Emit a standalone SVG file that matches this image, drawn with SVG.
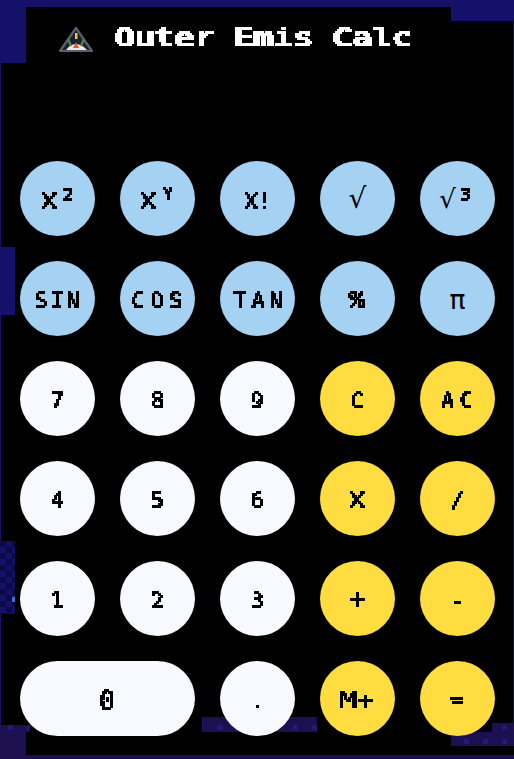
<svg xmlns="http://www.w3.org/2000/svg" width="514" height="759" viewBox="0 0 514 759">
<style>
.bg{fill:#000}
.n{fill:#15106a}
.p{fill:#1c1050}
.b{fill:#a5d2f2}
.w{fill:#f8f9ff}
.y{fill:#ffdc40}
text{font-family:"DejaVu Sans Mono","Liberation Mono",monospace;font-weight:400;fill:#000;text-anchor:middle;font-size:22px;filter:url(#px)}
.title{fill:#fff;font-size:24px;text-anchor:start;filter:url(#pxt)}
.thin{font-family:"DejaVu Sans","Liberation Sans",sans-serif;font-weight:400;filter:none}
</style>
<defs>
<filter id="px" filterUnits="userSpaceOnUse" x="-36" y="-30" width="72" height="42" color-interpolation-filters="sRGB">
<feFlood x="-36" y="-30" width="1" height="1" flood-color="#000"/>
<feComposite x="-36" y="-30" width="2" height="2"/>
<feTile result="a"/>
<feComposite in="SourceGraphic" in2="a" operator="in"/>
<feComponentTransfer><feFuncA type="discrete" tableValues="0 0 1 1"/></feComponentTransfer>
<feMorphology operator="dilate" radius="1"/>
</filter>
<filter id="pxt" filterUnits="userSpaceOnUse" x="-4" y="-24" width="312" height="36" color-interpolation-filters="sRGB">
<feFlood x="-4" y="-24" width="1" height="1" flood-color="#000"/>
<feComposite x="-4" y="-24" width="2" height="2"/>
<feTile result="a"/>
<feComposite in="SourceGraphic" in2="a" operator="in"/>
<feComponentTransfer><feFuncA type="discrete" tableValues="0 0 1 1"/></feComponentTransfer>
<feMorphology operator="dilate" radius="2 1"/>
</filter>
<pattern id="chk" width="12" height="12" patternUnits="userSpaceOnUse" x="0" y="541">
<rect width="12" height="12" fill="#15106a"/>
<rect width="6" height="6" fill="#0e0a48"/>
<rect x="6" y="6" width="6" height="6" fill="#0e0a48"/>
</pattern>
<pattern id="dots" width="19" height="14" patternUnits="userSpaceOnUse" x="2" y="721">
<rect width="19" height="14" fill="#1c1050"/>
<rect x="6" y="4" width="5" height="5" fill="#221a78"/>
</pattern>
</defs>
<rect class="bg" width="514" height="759"/>
<g id="backdrop">
<rect class="n" x="0" y="0" width="514" height="7"/>
<rect class="n" x="0" y="0" width="26" height="63"/>
<rect class="n" x="451" y="0" width="63" height="21"/>
<rect class="n" x="0" y="63" width="1" height="662"/>
<rect class="n" x="513" y="21" width="1" height="702"/>
<rect class="n" x="0" y="247" width="15" height="68"/>
<rect fill="url(#chk)" x="0" y="541" width="15" height="73"/>
<rect x="12" y="597" width="3" height="5" fill="#3f6fd0"/>
<rect fill="url(#dots)" x="0" y="725" width="30" height="7"/>
<rect class="p" x="0" y="732" width="26" height="27"/>
<rect fill="url(#dots)" x="202" y="717" width="115" height="15"/>
<rect fill="url(#dots)" x="492" y="723" width="22" height="9"/>
<rect fill="url(#dots)" x="451" y="732" width="63" height="14"/>
<rect class="p" x="0" y="755" width="514" height="4"/>
</g>
<g id="header">
<g id="logo">
<path d="M76 28 L92 51 L60 51 Z" fill="#1a2230" stroke="#5a6070" stroke-width="2.2" stroke-linejoin="round"/>
<path d="M66 50 Q70 44 76 44 Q82 44 87 50 Z" fill="#f3e6dc"/>
<path d="M73 48 L76 42 L79 48 Z" fill="#e8563a"/>
<rect x="75" y="33" width="2.5" height="6" fill="#f2c14e"/>
<path d="M68 39 L71 46 M84 39 L81 46" stroke="#4f8a3c" stroke-width="2.2" fill="none"/>
</g>
<text class="title" transform="translate(115,46)" textLength="297" lengthAdjust="spacingAndGlyphs">Outer Emis Calc</text>
</g>
<g id="keys">
<g id="k-x2"><circle class="b" cx="57.5" cy="198.5" r="37.5"/><text transform="translate(49,209)" textLength="16" lengthAdjust="spacingAndGlyphs">X</text><text transform="translate(68,209)" style="font-size:28px">²</text></g>
<g id="k-xy"><circle class="b" cx="157.5" cy="198.5" r="37.5"/><text transform="translate(148,209)" textLength="16" lengthAdjust="spacingAndGlyphs">X</text><text transform="translate(168,200)" style="font-size:18px">Y</text></g>
<g id="k-fact"><circle class="b" cx="257.5" cy="198.5" r="37.5"/><text transform="translate(258,209)" textLength="28" lengthAdjust="spacingAndGlyphs">X!</text></g>
<g id="k-sqrt"><circle class="b" cx="357.5" cy="198.5" r="37.5"/><text class="thin" x="357.5" y="208" style="font-size:28px">√</text></g>
<g id="k-cbrt"><circle class="b" cx="457.5" cy="198.5" r="37.5"/><text class="thin" x="447.5" y="208" style="font-size:26px">√</text><text transform="translate(466,209)" style="font-size:28px">³</text></g>
<g id="k-sin"><circle class="b" cx="57.5" cy="298.5" r="37.5"/><text transform="translate(57,308)" textLength="45">SIN</text></g>
<g id="k-cos"><circle class="b" cx="157.5" cy="298.5" r="37.5"/><text transform="translate(157,308)" textLength="51">COS</text></g>
<g id="k-tan"><circle class="b" cx="257.5" cy="298.5" r="37.5"/><text transform="translate(258,308)" textLength="49">TAN</text></g>
<g id="k-pct"><circle class="b" cx="357.5" cy="298.5" r="37.5"/><text transform="translate(357,308)" style="font-family:'Liberation Mono',monospace;font-weight:700;font-size:26px" textLength="16" lengthAdjust="spacingAndGlyphs">%</text></g>
<g id="k-pi"><circle class="b" cx="457.5" cy="298.5" r="37.5"/><text class="thin" x="457.5" y="309" style="font-size:26px" textLength="16" lengthAdjust="spacingAndGlyphs">π</text></g>
<g id="k-7"><circle class="w" cx="57.5" cy="398.5" r="37.5"/><text transform="translate(57,408)">7</text></g>
<g id="k-8"><circle class="w" cx="157.5" cy="398.5" r="37.5"/><text transform="translate(157,408)" x="0.5">8</text></g>
<g id="k-9"><circle class="w" cx="257.5" cy="398.5" r="37.5"/><text transform="translate(257,408)">9</text></g>
<g id="k-c"><circle class="y" cx="357.5" cy="398.5" r="37.5"/><text transform="translate(357,408)">C</text></g>
<g id="k-ac"><circle class="y" cx="457.5" cy="398.5" r="37.5"/><text transform="translate(457,408)" textLength="32">AC</text></g>
<g id="k-4"><circle class="w" cx="57.5" cy="498.5" r="37.5"/><text transform="translate(57,508)">4</text></g>
<g id="k-5"><circle class="w" cx="157.5" cy="498.5" r="37.5"/><text transform="translate(157,508)">5</text></g>
<g id="k-6"><circle class="w" cx="257.5" cy="498.5" r="37.5"/><text transform="translate(257,508)">6</text></g>
<g id="k-mul"><circle class="y" cx="357.5" cy="498.5" r="37.5"/><text transform="translate(357,508)" textLength="16" lengthAdjust="spacingAndGlyphs">X</text></g>
<g id="k-div"><circle class="y" cx="457.5" cy="498.5" r="37.5"/><text transform="translate(457,508)">/</text></g>
<g id="k-1"><circle class="w" cx="57.5" cy="598.5" r="37.5"/><text transform="translate(57,608)">1</text></g>
<g id="k-2"><circle class="w" cx="157.5" cy="598.5" r="37.5"/><text transform="translate(157,608)">2</text></g>
<g id="k-3"><circle class="w" cx="257.5" cy="598.5" r="37.5"/><text transform="translate(257,608)">3</text></g>
<g id="k-plus"><circle class="y" cx="357.5" cy="598.5" r="37.5"/><text transform="translate(357,609)" style="font-size:28px">+</text></g>
<g id="k-minus"><circle class="y" cx="457.5" cy="598.5" r="37.5"/><text transform="translate(457,608)">-</text></g>
<g id="k-0"><rect class="w" x="20" y="661" width="175" height="75" rx="37.5"/><text transform="translate(107,710)" style="font-size:27px">0</text></g>
<g id="k-dot"><circle class="w" cx="257.5" cy="698.5" r="37.5"/><text transform="translate(257,708)">.</text></g>
<g id="k-mplus"><circle class="y" cx="357.5" cy="698.5" r="37.5"/><text transform="translate(357,708)" textLength="35" lengthAdjust="spacingAndGlyphs">M+</text></g>
<g id="k-eq"><circle class="y" cx="457.5" cy="698.5" r="37.5"/><text transform="translate(457,708)">=</text></g>
</g>
</svg>
